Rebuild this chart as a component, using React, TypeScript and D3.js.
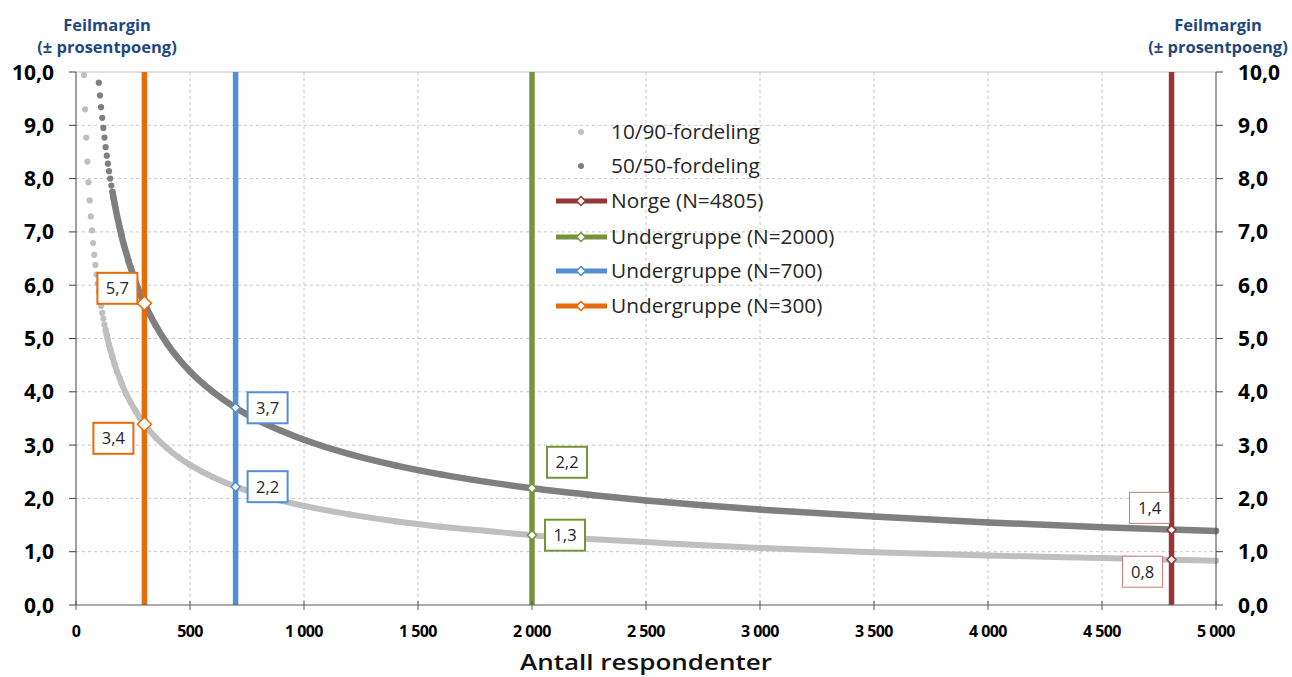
import React from 'react';
import * as d3 from 'd3';

// ---------- data ----------
const xTicks = [0, 500, 1000, 1500, 2000, 2500, 3000, 3500, 4000, 4500, 5000];
const yTicks = [0, 1, 2, 3, 4, 5, 6, 7, 8, 9, 10];

const seriesNames = ['10/90-fordeling', '50/50-fordeling'];

// 10/90-fordeling (light grey dots)
const lightN = [35, 40, 45, 50, 55, 60, 65, 70, 75, 80, 85, 90, 95, 100, 105, 110, 115, 120, 125, 130, 135, 140, 145, 150,
  160, 170, 180, 190, 200, 220, 240, 260, 280, 300, 350, 400, 450, 500, 600, 700, 800, 900, 1000,
  1200, 1400, 1600, 1800, 2000, 2250, 2500, 2750, 3000, 3500, 4000, 4500, 5000];
const lightV = [9.94, 9.30, 8.77, 8.32, 7.93, 7.59, 7.29, 7.03, 6.79, 6.57, 6.38, 6.20, 6.03, 5.88, 5.74, 5.61, 5.48, 5.37, 5.26, 5.16, 5.06, 4.97, 4.88, 4.80,
  4.65, 4.51, 4.38, 4.27, 4.16, 3.96, 3.80, 3.65, 3.51, 3.39, 3.14, 2.94, 2.77, 2.63, 2.40, 2.22, 2.08, 1.96, 1.86,
  1.70, 1.57, 1.47, 1.39, 1.31, 1.24, 1.18, 1.12, 1.07, 0.99, 0.93, 0.88, 0.83];

// 50/50-fordeling (dark grey dots)
const darkN = [100, 105, 110, 115, 120, 125, 130, 135, 140, 145, 150, 155, 160, 165, 170, 175, 180, 185, 190, 195, 200,
  210, 220, 230, 240, 250, 260, 270, 280, 290, 300, 350, 400, 450, 500, 600, 700, 800, 900, 1000,
  1200, 1400, 1600, 1800, 2000, 2250, 2500, 2750, 3000, 3500, 4000, 4500, 5000];
const darkV = [9.80, 9.56, 9.34, 9.14, 8.95, 8.77, 8.59, 8.43, 8.28, 8.14, 8.00, 7.87, 7.75, 7.63, 7.52, 7.41, 7.30, 7.21, 7.11, 7.02, 6.93,
  6.76, 6.61, 6.46, 6.33, 6.20, 6.08, 5.96, 5.86, 5.75, 5.66, 5.24, 4.90, 4.62, 4.38, 4.00, 3.70, 3.46, 3.27, 3.10,
  2.83, 2.62, 2.45, 2.31, 2.19, 2.07, 1.96, 1.87, 1.79, 1.66, 1.55, 1.46, 1.39];

const groupNames = ['Norge (N=4805)', 'Undergruppe (N=2000)', 'Undergruppe (N=700)', 'Undergruppe (N=300)'];
const groupN = [4805, 2000, 700, 300];
const groupDarkV = [1.41, 2.19, 3.70, 5.66];
const groupLightV = [0.85, 1.31, 2.22, 3.39];
const groupDarkLabel = ['1,4', '2,2', '3,7', '5,7'];
const groupLightLabel = ['0,8', '1,3', '2,2', '3,4'];

const yTitle = ['Feilmargin', '(± prosentpoeng)'];
const xTitle = 'Antall respondenter';

// ---------- styles / layout ----------
const W = 1292, H = 677;
const X0 = 76, X1 = 1216, Y0 = 605, Y1 = 72;
const groupColors = ['#953735', '#77933C', '#558ED5', '#E46C0A'];
const labelBorder = ['#C97A78', '#77933C', '#558ED5', '#E46C0A'];
const labelBorderW = [1, 2, 2, 2];
const markerSize = [9, 9, 9, 14];
const darkOff = [[-22, -22], [35, -26], [32, 0], [-27, -15]];
const lightOff = [[-29, 12], [33, 0], [32, 0], [-31, 14]];
const lightColor = '#BFBFBF';
const darkColor = '#7F7F7F';
const FONT = "'Open Sans', 'Liberation Sans', sans-serif";

const loc = d3.formatLocale({ decimal: ',', thousands: '\u00a0', grouping: [3], currency: ['', ''] });
const fmtY = loc.format('.1f');
const fmtX = loc.format(',.0f');

function diamond(cx: number, cy: number, s: number) {
  const h = s / 2;
  return `M${cx},${cy - h}L${cx + h},${cy}L${cx},${cy + h}L${cx - h},${cy}Z`;
}

export default function App() {
  const x = d3.scaleLinear().domain([0, 5000]).range([X0, X1]);
  const y = d3.scaleLinear().domain([0, 10]).range([Y0, Y1]);

  const light = lightN.map((n, i) => [n, lightV[i]] as [number, number]);
  const dark = darkN.map((n, i) => [n, darkV[i]] as [number, number]);

  const line = d3.line<[number, number]>().x(d => x(d[0])).y(d => y(d[1])).curve(d3.curveMonotoneX);
  const lightPath = line(light.filter(d => d[0] >= 130)) || '';
  const darkPath = line(dark.filter(d => d[0] >= 160)) || '';

  const legendY = [132, 166, 201, 237, 271, 306];

  return (
    <svg width={W} height={H} style={{ position: 'absolute', left: 0, top: 0, background: '#fff' }} fontFamily={FONT}>
      {/* grid */}
      {yTicks.filter(t => t > 0 && t < 10).map(t => (
        <line key={'gy' + t} x1={X0} x2={X1} y1={y(t)} y2={y(t)} stroke="#C8C8C8" strokeDasharray="3,3" strokeWidth={1} />
      ))}
      {xTicks.filter(t => t > 0 && t < 5000).map(t => (
        <line key={'gx' + t} x1={x(t)} x2={x(t)} y1={Y1} y2={Y0} stroke="#C8C8C8" strokeDasharray="3,3" strokeWidth={1} />
      ))}
      <line x1={X0} x2={X1} y1={Y1} y2={Y1} stroke="#BFBFBF" strokeWidth={1} />

      {/* curves */}
      <path d={lightPath} fill="none" stroke={lightColor} strokeWidth={6} strokeLinecap="round" />
      {light.map((d, i) => (
        <circle key={'l' + i} cx={x(d[0])} cy={y(d[1])} r={3.1} fill={lightColor} />
      ))}
      <path d={darkPath} fill="none" stroke={darkColor} strokeWidth={6.5} strokeLinecap="round" />
      {dark.map((d, i) => (
        <circle key={'d' + i} cx={x(d[0])} cy={y(d[1])} r={3.1} fill={darkColor} />
      ))}

      {/* vertical group lines */}
      {groupN.map((n, i) => (
        <line key={'v' + i} x1={x(n)} x2={x(n)} y1={Y1} y2={Y0} stroke={groupColors[i]} strokeWidth={5.5} />
      ))}

      {/* axes */}
      <line x1={X0} x2={X0} y1={Y1} y2={Y0} stroke="#404040" strokeWidth={1} />
      <line x1={X1} x2={X1} y1={Y1} y2={Y0} stroke="#404040" strokeWidth={1} />
      <line x1={X0} x2={X1} y1={Y0} y2={Y0} stroke="#595959" strokeWidth={1.2} />
      {yTicks.map(t => (
        <g key={'yt' + t}>
          <line x1={X0 - 7} x2={X0} y1={y(t)} y2={y(t)} stroke="#404040" />
          <line x1={X1} x2={X1 + 7} y1={y(t)} y2={y(t)} stroke="#404040" />
          <text x={54} y={y(t)} dy="0.36em" textAnchor="end" fontSize={21} fontWeight="bold" fill="#000">{fmtY(t)}</text>
          <text x={1238} y={y(t)} dy="0.36em" textAnchor="start" fontSize={21} fontWeight="bold" fill="#000">{fmtY(t)}</text>
        </g>
      ))}
      {xTicks.map(t => (
        <g key={'xt' + t}>
          <line x1={x(t)} x2={x(t)} y1={Y0 - 4} y2={Y0 + 5} stroke="#595959" />
          <text x={x(t)} y={631} dy="0.36em" textAnchor="middle" fontSize={16} fontWeight="bold" letterSpacing={-0.6} fill="#000">{fmtX(t)}</text>
        </g>
      ))}

      {/* axis titles */}
      {[107, 1218].map((cx, k) => (
        <g key={'yt-title' + k} fill="#1F497D" fontWeight="bold" fontSize={16.5} textAnchor="middle">
          <text x={cx} y={25} dy="0.36em">{yTitle[0]}</text>
          <text x={cx} y={47} dy="0.36em">{yTitle[1]}</text>
        </g>
      ))}
      <text x={(X0 + X1) / 2} y={662} dy="0.36em" textAnchor="middle" fontSize={22} fontWeight="600" fill="#111"
        textLength={252} lengthAdjust="spacingAndGlyphs">{xTitle}</text>

      {/* markers + labels */}
      {groupN.map((n, i) => {
        const cx = x(n);
        const yd = y(groupDarkV[i]);
        const yl = y(groupLightV[i]);
        const boxes = [
          { t: groupDarkLabel[i], bx: cx + darkOff[i][0], by: yd + darkOff[i][1] },
          { t: groupLightLabel[i], bx: cx + lightOff[i][0], by: yl + lightOff[i][1] },
        ];
        return (
          <g key={'m' + i}>
            <path d={diamond(cx, yd, markerSize[i])} fill="#fff" stroke={groupColors[i]} strokeWidth={1.5} />
            <path d={diamond(cx, yl, markerSize[i])} fill="#fff" stroke={groupColors[i]} strokeWidth={1.5} />
            {boxes.map((b, k) => (
              <g key={k}>
                <rect x={b.bx - 20} y={b.by - 15.5} width={40} height={31} fill="#fff" stroke={labelBorder[i]} strokeWidth={labelBorderW[i]} />
                <text x={b.bx} y={b.by} dy="0.36em" textAnchor="middle" fontSize={16.5} fill="#262626">{b.t}</text>
              </g>
            ))}
          </g>
        );
      })}

      {/* legend */}
      <g fontSize={20.8} fill="#262626">
        <circle cx={581} cy={legendY[0]} r={3} fill={lightColor} />
        <text x={611} y={legendY[0]} dy="0.36em">{seriesNames[0]}</text>
        <circle cx={581} cy={legendY[1]} r={3} fill={darkColor} />
        <text x={611} y={legendY[1]} dy="0.36em">{seriesNames[1]}</text>
        {groupNames.map((g, i) => (
          <g key={'lg' + i}>
            <line x1={556} x2={607} y1={legendY[2 + i]} y2={legendY[2 + i]} stroke={groupColors[i]} strokeWidth={5} />
            <path d={diamond(581, legendY[2 + i], 9)} fill="#fff" stroke={groupColors[i]} strokeWidth={1.5} />
            <text x={611} y={legendY[2 + i]} dy="0.36em">{g}</text>
          </g>
        ))}
      </g>
    </svg>
  );
}
